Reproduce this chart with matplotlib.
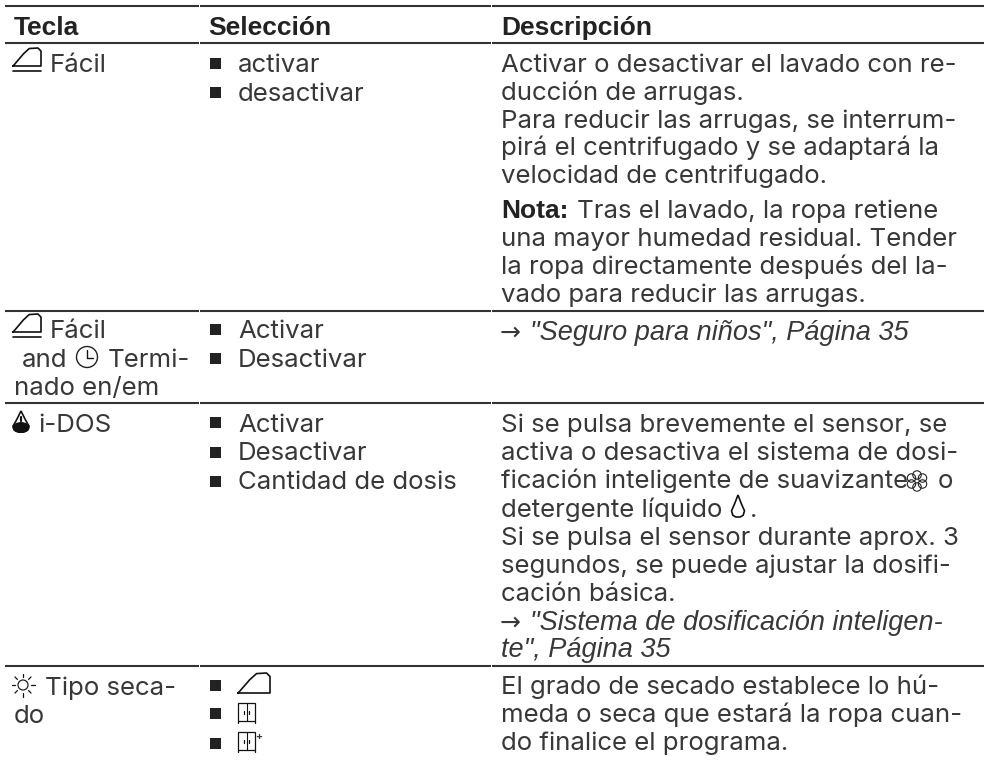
import matplotlib
matplotlib.use("Agg")
import matplotlib.pyplot as plt
from matplotlib.patches import Rectangle, Circle, Polygon, Ellipse

W, H = 984, 762
plt.rcParams['font.family'] = ['Inter', 'DejaVu Sans']
INK = '#383838'
FS = 18.6
BOLD = ['Liberation Sans', 'DejaVu Sans']

headers = ["Tecla", "Selección", "Descripción"]
header_x = [14, 208, 501]
key_lines = [("Fácil", 50, 72), ("Fácil", 50, 338), ("and", 22, 367), ("Termi-", 108, 367),
             ("nado en/em", 14, 395), ("i-DOS", 38, 432), ("Tipo seca-", 45, 695), ("do", 14, 723)]
sel_lines = [("activar", 72), ("desactivar", 101), ("Activar", 338), ("Desactivar", 367),
             ("Activar", 432), ("Desactivar", 460), ("Cantidad de dosis", 489)]
desc_lines = [("Activar o desactivar el lavado con re-", 72),
              ("ducción de arrugas.", 100),
              ("Para reducir las arrugas, se interrum-", 128),
              ("pirá el centrifugado y se adaptará la", 155),
              ("velocidad de centrifugado.", 183),
              ("una mayor humedad residual. Tender", 246),
              ("la ropa directamente después del la-", 274),
              ("vado para reducir las arrugas.", 302),
              ("Si se pulsa brevemente el sensor, se", 432),
              ("activa o desactiva el sistema de dosi-", 460),
              ("ficación inteligente de suavizante", 488),
              ("detergente líquido", 517),
              ("Si se pulsa el sensor durante aprox. 3", 545),
              ("segundos, se puede ajustar la dosifi-", 573),
              ("cación básica.", 601),
              ("El grado de secado establece lo hú-", 694),
              ("meda o seca que estará la ropa cuan-", 722),
              ("do finalice el programa.", 750)]
nota_label = "Nota:"
nota_text = "Tras el lavado, la ropa retiene"
refs = [("→", "\"Seguro para niños\", Página 35", 340),
        ("→", "\"Sistema de dosificación inteligen-", 630)]
ref_tail = ("te\", Página 35", 657)
rule_ys = [6, 43, 311, 403, 666]
bullet_ys = [63, 92, 329, 358, 422, 452, 481, 685, 713, 743]

fig = plt.figure(figsize=(W / 100, H / 100), dpi=100)
ax = fig.add_axes([0, 0, 1, 1])
ax.set_xlim(0, W)
ax.set_ylim(H, 0)
ax.axis('off')


def T(x, y, s, **kw):
    kw.setdefault('color', INK)
    kw.setdefault('fontsize', FS)
    ax.text(x, y, s, va='baseline', ha='left', **kw)


def L(xs, ys, lw=1.1, c='#111111'):
    ax.plot(xs, ys, color=c, lw=lw, solid_capstyle='round', solid_joinstyle='round')


def iron(x, y, w=28, h=18, base=True):
    # (x, y) = lower-left tip of the sole
    fx = [0, .06, .37, .58, .89, 1, 1, 0]
    fy = [0, .1, .67, .97, 1, .83, 0, 0]
    L([x + a * w for a in fx], [y - b * h for b in fy], lw=1.2)
    if base:
        L([x, x + w], [y + 5, y + 5], lw=1.2)


def cabinet(x, y, plus=False):
    ax.add_patch(Rectangle((x, y - 20), 17, 18, fill=False, ec='#111', lw=0.9))
    L([x + 8.5, x + 8.5], [y - 20, y - 2], lw=0.8)
    L([x + 6, x + 6], [y - 12, y - 9], lw=0.9)
    L([x + 11, x + 11], [y - 12, y - 9], lw=0.9)
    L([x, x], [y - 2, y], lw=0.9)
    L([x + 17, x + 17], [y - 2, y], lw=0.9)
    if plus:
        T(x + 17, y - 12, "+", fontsize=7.5, fontweight='bold')


def clock(x, y, r=10.5):
    ax.add_patch(Circle((x, y), r, fill=False, ec='#222', lw=1.0))
    L([x, x, x + 6], [y - 7, y + 1, y + 1], lw=1.0)


def drop(x, y, filled=False, h=21, w=8, lw=1.2):
    pts = [(x, y - h), (x - w * .55, y - h * .58), (x - w, y - h * .28), (x - w * .8, y - h * .08), (x - w * .35, y),
           (x + w * .35, y), (x + w * .8, y - h * .08), (x + w, y - h * .28), (x + w * .55, y - h * .58)]
    ax.add_patch(Polygon(pts, closed=True, fill=False, ec='#111', lw=lw))
    if filled:
        ax.add_patch(Ellipse((x, y - 4.5), 2 * w * .98, 9.5, fc='#111', ec='#111'))
        L([x, x], [y - 15, y - 11], lw=1.6)


def sun(x, y):
    ax.add_patch(Circle((x, y), 5, fill=False, ec='#222', lw=0.9))
    for dx, dy in [(0, -1), (0, 1), (1, 0), (-1, 0), (.7, .7), (-.7, .7), (.7, -.7), (-.7, -.7)]:
        L([x + dx * 8, x + dx * 11.5], [y + dy * 8, y + dy * 11.5], lw=0.9)


def flower(x, y):
    for dx, dy in [(0, -6), (0, 6), (-5.5, -3), (5.5, -3), (-5.5, 3), (5.5, 3)]:
        ax.add_patch(Circle((x + dx, y + dy), 4.2, fill=False, ec='#222', lw=0.8))


# rules
for y in rule_ys:
    for x0, x1 in [(5, 199), (200, 491), (492, 984)]:
        ax.plot([x0, x1], [y, y], color='#333333', lw=1.5, solid_capstyle='butt')

# headers
for x, s in zip(header_x, headers):
    T(x, 35, s, fontweight='bold', family=BOLD, fontsize=19, color='#222222')

# key column
for s, x, y in key_lines:
    T(x, y, s)
iron(13, 66)
iron(13, 332)
clock(87, 357)
drop(21, 432, filled=True)
sun(23, 685)

# selection column
for y in bullet_ys:
    ax.add_patch(Rectangle((210, y - 5), 10.5, 10.5, fc='#222', ec='none'))
for s, y in sel_lines:
    T(238, y, s)
iron(238, 693, w=32, h=20, base=False)
cabinet(238, 723)
cabinet(238, 752, plus=True)

# description column
for s, y in desc_lines:
    T(501, y, s)
T(501, 218, nota_label, fontweight='bold', family=BOLD, fontsize=19, color='#222222')
T(577, 218, nota_text)
for arrow, s, y in refs:
    T(500, y, arrow, fontsize=18, family='DejaVu Sans')
    T(530, y, s, fontstyle='italic', family='Liberation Sans', fontsize=19.5)
T(501, ref_tail[1], ref_tail[0], fontstyle='italic', family='Liberation Sans', fontsize=19.5)
T(938, 488, "o")
T(750, 517, ".")
flower(917, 481)
drop(738, 517, h=22, w=6.5)

fig.savefig("out.png", dpi=100, facecolor='white')
